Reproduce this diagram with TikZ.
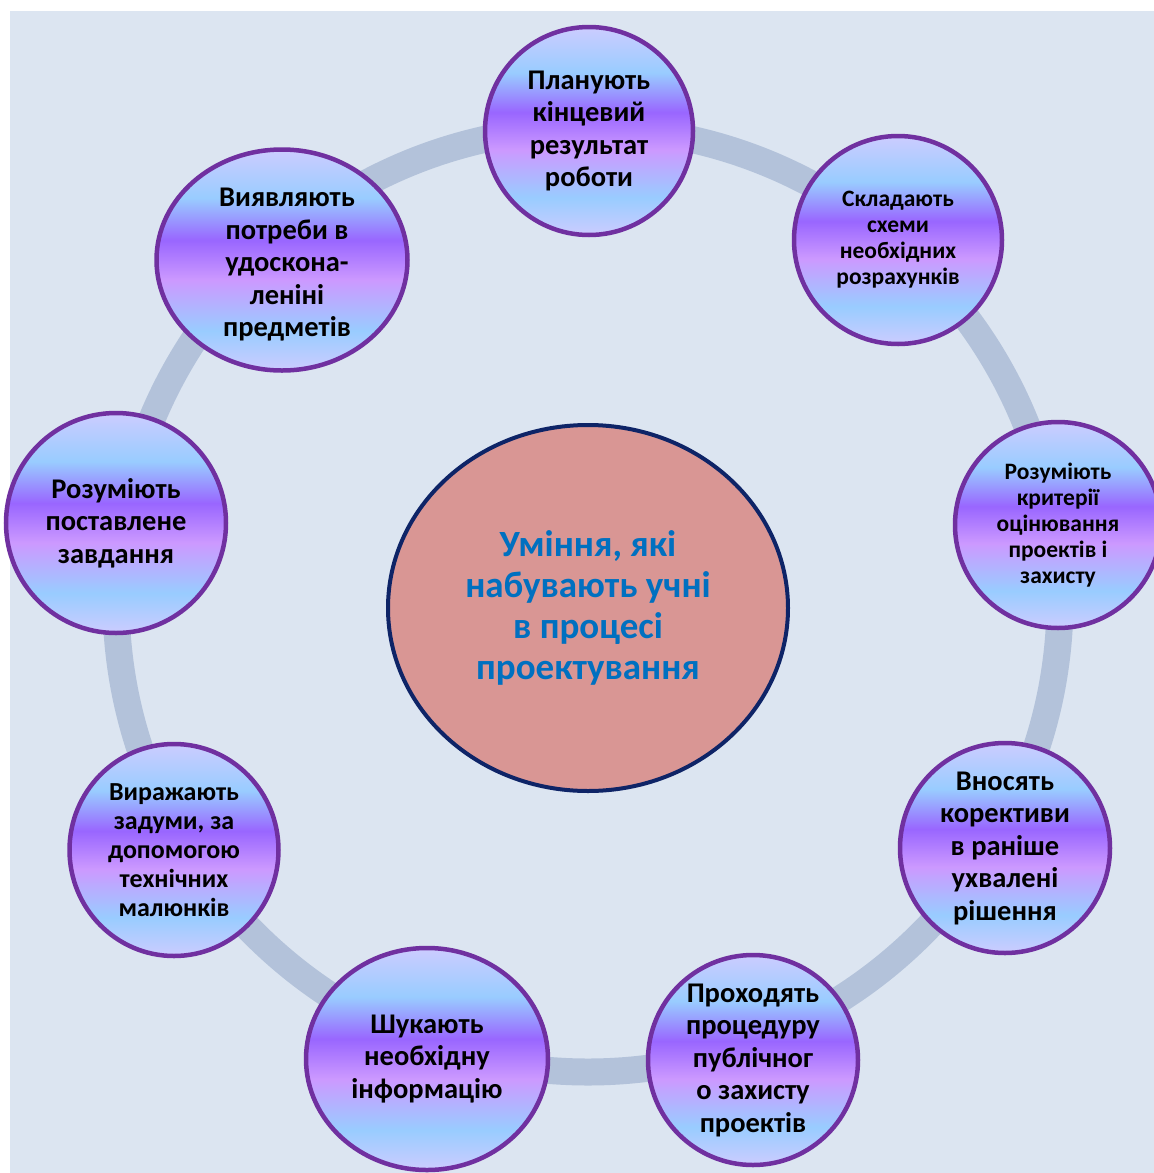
\documentclass[tikz,border=0pt]{standalone}
\usepackage{fontspec}
\setmainfont{Carlito}
\usetikzlibrary{shapes.geometric}
\definecolor{bgfill}{HTML}{DCE5F1}
\definecolor{ringline}{HTML}{B3C2DA}
\definecolor{bubedge}{HTML}{7030A0}
\definecolor{hubfill}{HTML}{D99694}
\definecolor{hubedge}{HTML}{0E2467}
\definecolor{hubtext}{HTML}{0070C0}
\definecolor{bublav}{HTML}{CCCCFF}
\definecolor{bubsky}{HTML}{99CCFF}
\definecolor{bubpink}{HTML}{CC99FF}
\definecolor{bubviolet}{HTML}{9966FF}
\pgfdeclareverticalshading{bubshade}{100bp}{color(0bp)=(bublav); color(25bp)=(bublav); color(34bp)=(bubsky); color(45.5bp)=(bubpink); color(54.5bp)=(bubviolet); color(64bp)=(bubsky); color(75bp)=(bublav); color(100bp)=(bublav)}
\tikzset{
  bubble/.style={ellipse,draw=bubedge,line width=4.5pt,shading=bubshade,inner sep=0pt,minimum size=#1},
  bubtext/.style={align=center,inner sep=0pt,text=black,font=\bfseries\fontsize{28.5}{32.5}\selectfont},
  midtext/.style={bubtext,font=\bfseries\fontsize{26}{29}\selectfont},
  smalltext/.style={bubtext,font=\bfseries\fontsize{23.5}{26}\selectfont},
  hub/.style={ellipse,draw=hubedge,line width=4pt,fill=hubfill,minimum width=400pt,minimum height=366pt,align=center,text=hubtext,font=\bfseries\fontsize{37}{41}\selectfont},
  ring/.style={draw=ringline,line width=27pt}
}

\begin{document}
\begin{tikzpicture}[x=1pt,y=-1pt]
\useasboundingbox (0,0) rectangle (1154,1173);
\fill[white] (0,0) rectangle (1154,1173);
\fill[bgfill] (10,11) rectangle (1154,1173);
\coordinate (o) at (588,600);
\draw[ring] (o) circle[radius=472];
\node[hub] (hub) at (588,608) {Уміння, які\\набувають учні\\в процесі\\проектування};
\node[bubble=208, label={[bubtext]center:Планують\\кінцевий\\результат\\роботи}] (a) at (589,131) {};
\node[bubble=208, label={[smalltext]center:Складають\\схеми\\необхідних\\розрахунків}] (b) at (898,240) {};
\node[bubble=206, label={[smalltext]center:Розуміють\\критерії\\оцінювання\\проектів і\\захисту}] (c) at (1058,525) {};
\node[bubble=210, label={[bubtext]center:Вносять\\корективи\\в раніше\\ухвалені\\рішення}] (d) at (1005,848) {};
\node[bubble=210, label={[bubtext]center:Проходять\\процедуру\\публічног\\о захисту\\проектів}] (e) at (753,1060) {};
\node[bubble=222, minimum width=242, label={[bubtext]center:Шукають\\необхідну\\інформацію}] (f) at (427,1059) {};
\node[bubble=212, minimum width=209, label={[midtext]center:Виражають\\задуми, за\\допомогою\\технічних\\малюнків}] (g) at (174,850) {};
\node[bubble=220, label={[bubtext]center:Розуміють\\поставлене\\завдання}] (h) at (116,523) {};
\node[bubble=221, minimum width=251, label={[bubtext,xshift=5pt,yshift=-5pt]center:Виявляють\\потреби в\\удоскона-\\леніні\\предметів}] (i) at (282,260) {};
\end{tikzpicture}
\end{document}
